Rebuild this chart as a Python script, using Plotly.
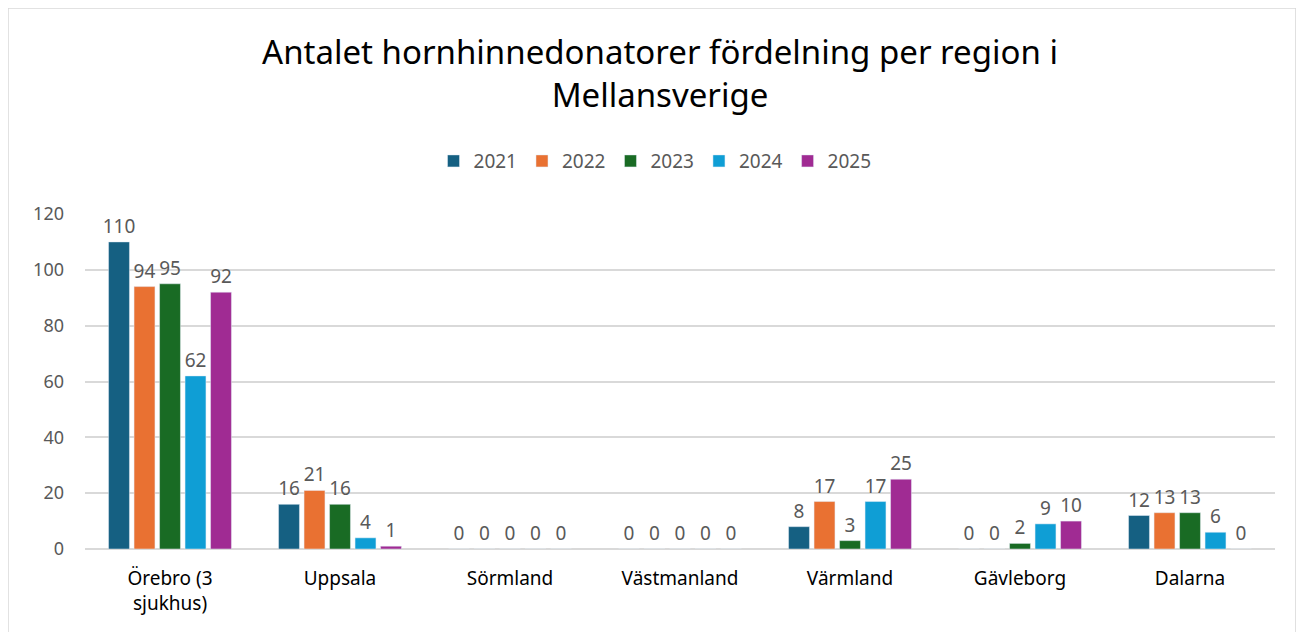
import plotly.graph_objects as go

# regioner och år
regioner = ["Örebro (3<br>sjukhus)", "Uppsala", "Sörmland", "Västmanland",
            "Värmland", "Gävleborg", "Dalarna"]
ar = ["2021", "2022", "2023", "2024", "2025"]

v2021 = [110, 16, 0, 0, 8, 0, 12]
v2022 = [94, 21, 0, 0, 17, 0, 13]
v2023 = [95, 16, 0, 0, 3, 2, 13]
v2024 = [62, 4, 0, 0, 17, 9, 6]
v2025 = [92, 1, 0, 0, 25, 10, 0]

farger = ["#156082", "#E97132", "#196B24", "#0F9ED5", "#A02B93"]
serier = [v2021, v2022, v2023, v2024, v2025]

fig = go.Figure()
for namn, vals, cor in zip(ar, serier, farger):
    fig.add_trace(go.Bar(
        x=regioner, y=vals, name=namn, marker_color=cor,
        text=vals, textposition="outside", constraintext="none",
        textfont=dict(size=19, color="#595959"), cliponaxis=False,
    ))

fig.update_layout(
    title=dict(text="Antalet hornhinnedonatorer fördelning per region i<br>Mellansverige",
               x=0.5, xref="container", xanchor="center", y=0.911, yanchor="middle",
               font=dict(size=33, color="#000000")),
    font=dict(family="Noto Sans, Arial, sans-serif"),
    barmode="group", bargap=0.25, bargroupgap=0.18,
    plot_bgcolor="white", paper_bgcolor="white",
    width=1304, height=632, autosize=False,
    margin=dict(l=77, r=37, t=206, b=91, autoexpand=False),
    showlegend=True,
    legend=dict(orientation="h", x=0.479, xanchor="center",
                y=1.158, yanchor="middle", font=dict(size=19, color="#595959"),
                itemwidth=30, traceorder="normal"),
)
fig.update_yaxes(range=[0, 120], dtick=20, showgrid=True, gridcolor="#D9D9D9",
                 gridwidth=1.5, zeroline=True, zerolinecolor="#D9D9D9",
                 zerolinewidth=1.5, tickfont=dict(size=18, color="#595959"),
                 ticks="", ticklabelstandoff=20)
fig.update_xaxes(showline=False, tickfont=dict(size=19, color="#000000"),
                 ticks="", ticklabelstandoff=16, tickangle=0)

# ram runt diagrammet
fig.add_shape(type="rect", xref="paper", yref="paper",
              x0=-0.0647, x1=1.0176, y0=-0.3, y1=1.615,
              line=dict(color="#D9D9D9", width=1.5), fillcolor="rgba(0,0,0,0)")

fig.write_html("out.html")
